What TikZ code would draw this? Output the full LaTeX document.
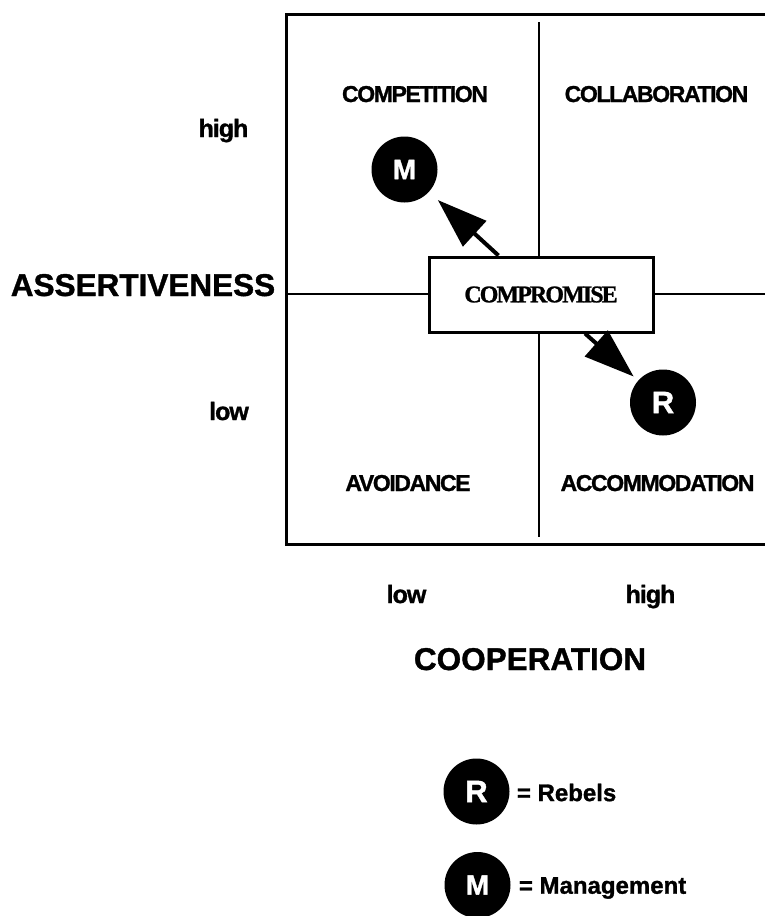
\documentclass[tikz,border=0pt]{standalone}
\usepackage{fontspec}
\setmainfont{Liberation Sans}
\newfontfamily\heavyfont[FakeBold=1.2]{Liberation Sans}
\newfontfamily\quadfont[LetterSpace=-6,FakeBold=1.2]{Liberation Sans}
\newfontfamily\levelfont[LetterSpace=-4,FakeBold=1.2]{Liberation Sans}
\newfontfamily\compfont[LetterSpace=-8,FakeBold=1]{Liberation Serif}
\usetikzlibrary{arrows.meta,positioning}
\tikzset{
  frameline/.style={line width=3pt},
  midline/.style={line width=1.3pt},
  quadlabel/.style={anchor=base, inner sep=0pt,
                    font=\quadfont\bfseries\fontsize{23}{26}\selectfont},
  axislabel/.style={anchor=base, inner sep=0pt,
                    font=\heavyfont\bfseries\fontsize{31.5}{34}\selectfont},
  levellabel/.style={anchor=base, inner sep=0pt,
                     font=\levelfont\bfseries\fontsize{25}{28}\selectfont},
  party/.style={circle, fill=black, text=white, inner sep=0pt,
                minimum size=66pt, font=\heavyfont\bfseries\fontsize{28}{30}\selectfont},
  bigparty/.style={party, font=\heavyfont\bfseries\fontsize{31}{33}\selectfont},
  compbox/.style={draw, line width=3pt, fill=white, minimum width=224pt,
                  minimum height=75pt, inner sep=0pt,
                  font=\compfont\bfseries\fontsize{24}{26}\selectfont},
  bigarrow/.style={-{Triangle[length=50pt,width=34pt]}, line width=4pt},
  legtext/.style={anchor=west, inner sep=0pt,
                  font=\heavyfont\bfseries\fontsize{24}{26}\selectfont},
}
\begin{document}
\begin{tikzpicture}[x=1pt, y=-1pt]
  \useasboundingbox (0,0) rectangle (765,916);

  % --- grid of the four styles ---
  \draw[frameline] (765,14) -- (286,14) -- (286,544) -- (765,544);
  \draw[midline] (539,22) -- (539,537);
  \draw[midline] (286,294) -- (765,294);

  \node[quadlabel] (competition)   at (415,102) {COMPETITION};
  \node[quadlabel] (collaboration) at (656.5,102) {COLLABORATION};
  \node[quadlabel] (avoidance)     at (408,491) {AVOIDANCE};
  \node[quadlabel] (accommodation) at (657.5,491) {ACCOMMODATION};

  % --- axes ---
  \node[levellabel] (asshigh) at (223.5,137) {high};
  \node[levellabel] (asslow)  at (229,420) {low};
  \node[axislabel]  (assert)  at (143,296) {ASSERTIVENESS};
  \node[levellabel] (cooplow)  at (406.5,603) {low};
  \node[levellabel] (coophigh) at (650.5,603) {high};
  \node[axislabel]  (coop)     at (530,670) {COOPERATION};

  % --- the two parties ---
  \node[party] (mgmt)      at (404.5,169.5) {M};
  \node[bigparty] (rebels) at (663,402.5) {R};
  \node[compbox] (comp) at (541,294.5) {COMPROMISE};

  \draw[bigarrow, shorten >=12pt] (comp) -- (mgmt);
  \draw[bigarrow, shorten >=6pt] (comp) -- (rebels);

  % --- legend ---
  \node[bigparty] (legR) at (476.5,791.5) {R};
  \node[legtext, right=7pt of legR, yshift=-1pt] (legRtext) {= Rebels};
  \node[party] (legM) at (477.5,885) {M};
  \node[legtext, right=8pt of legM, yshift=-3pt] (legMtext) {= Management};
\end{tikzpicture}
\end{document}
